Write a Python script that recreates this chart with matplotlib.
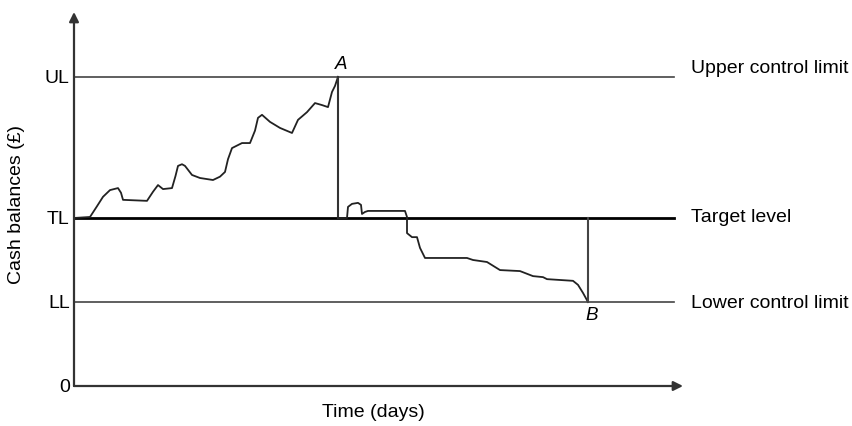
import matplotlib.pyplot as plt

# Control levels (cash balance, £'000)
LL = 25
TL = 50
UL = 92
x_end = 120  # days, where the limit lines stop

# Cash balance path, rising from target to upper limit (point A)
days_up = [0, 3.2, 4.6, 5.8, 7.2, 8.8, 9.4, 9.8, 14.6, 15.8, 16.8, 17.8, 19.6,
           20.3, 20.8, 21.6, 22.2, 23.6, 25.2, 27.8, 29.2, 30.2, 30.8, 31.6,
           33.6, 35.2, 36.2, 36.8, 37.6, 39.2, 41.2, 43.6, 44.8, 46.6, 48.2,
           49.6, 50.8, 51.6, 52.2, 52.8]
cash_up = [50, 50.3, 53.5, 56.3, 58.3, 58.9, 57.5, 55.4, 55.1, 57.8, 59.8,
           58.6, 58.9, 62.5, 65.5, 66.0, 65.5, 62.8, 61.9, 61.3, 62.3, 63.7,
           67.5, 70.8, 72.3, 72.3, 76.0, 79.8, 80.7, 78.6, 76.8, 75.3, 79.2,
           81.5, 84.2, 83.6, 83.0, 87.5, 89.3, 92]

# After reset to target, path falls to lower limit (point B)
days_down = [52.8, 54.6, 54.8, 55.6, 56.8, 57.4, 57.6, 58.2, 58.8, 66.2, 66.6,
             66.6, 67.6, 68.6, 69.2, 70.2, 78.6, 79.8, 82.6, 85.2, 89.2, 91.8,
             93.8, 94.6, 99.8, 100.8, 101.8, 102.8]
cash_down = [50, 50, 53.3, 54.2, 54.5, 53.9, 51.2, 51.8, 52.1, 52.1, 50.3,
             45.5, 44.3, 44.3, 41.1, 38.1, 38.1, 37.5, 36.9, 34.5, 34.2, 32.7,
             32.4, 31.8, 31.3, 30.1, 27.7, 25]

plt.rcParams['font.family'] = ['Liberation Sans', 'DejaVu Sans']

fig = plt.figure(figsize=(8.53, 4.26), dpi=100)
ax = fig.add_axes([74 / 853, 40 / 426, 609 / 853, 374 / 426])
ax.set_xlim(0, 121.8)
ax.set_ylim(0, 111.3)
for s in ax.spines.values():
    s.set_visible(False)

# axes with arrows
arr = dict(arrowstyle='-|>', color='#333333', lw=1.6, mutation_scale=14,
           shrinkA=0, shrinkB=0)
ax.annotate('', xy=(1, 0), xytext=(0, 0), xycoords='axes fraction', arrowprops=arr)
ax.annotate('', xy=(0, 1), xytext=(0, 0), xycoords='axes fraction', arrowprops=arr)

# limit lines
ax.plot([0, x_end], [UL, UL], color='#444444', lw=1.2)
ax.plot([0, x_end], [TL, TL], color='black', lw=2.0)
ax.plot([0, x_end], [LL, LL], color='#444444', lw=1.2)

# cash path
ax.plot(days_up, cash_up, color='#222222', lw=1.3)
ax.plot([days_up[-1], days_up[-1]], [UL, TL], color='#333333', lw=1.5)
ax.plot(days_down, cash_down, color='#222222', lw=1.3)
ax.plot([days_down[-1], days_down[-1]], [LL, TL], color='#444444', lw=1.5)

ax.text(days_up[-1] + 0.6, UL + 1.2, 'A', style='italic', fontsize=13.5,
        ha='center', va='bottom')
ax.text(days_down[-1] + 0.8, LL - 1.5, 'B', style='italic', fontsize=13.5,
        ha='center', va='top')

# right-hand labels
fs = 14
ax.text(x_end + 3.4, UL + 2.5, 'Upper control limit', fontsize=fs,
        va='center', ha='left', clip_on=False)
ax.text(x_end + 3.4, TL, 'Target level', fontsize=fs,
        va='center', ha='left', clip_on=False)
ax.text(x_end + 3.4, LL - 0.3, 'Lower control limit', fontsize=fs,
        va='center', ha='left', clip_on=False)

ax.set_xticks([])
ax.set_yticks([0, LL, TL, UL])
ax.set_yticklabels(['0', 'LL', 'TL', 'UL'], fontsize=fs)
ax.tick_params(axis='y', length=0, pad=3)
ax.set_xlabel('Time (days)', fontsize=fs)
ax.set_ylabel('Cash balances (£)', fontsize=fs)
ax.xaxis.set_label_coords((373 - 74) / 609, -18 / 374)
ax.yaxis.set_label_coords((25 - 74) / 609, (386 - 205) / 374)

fig.savefig('out.png', dpi=100)
